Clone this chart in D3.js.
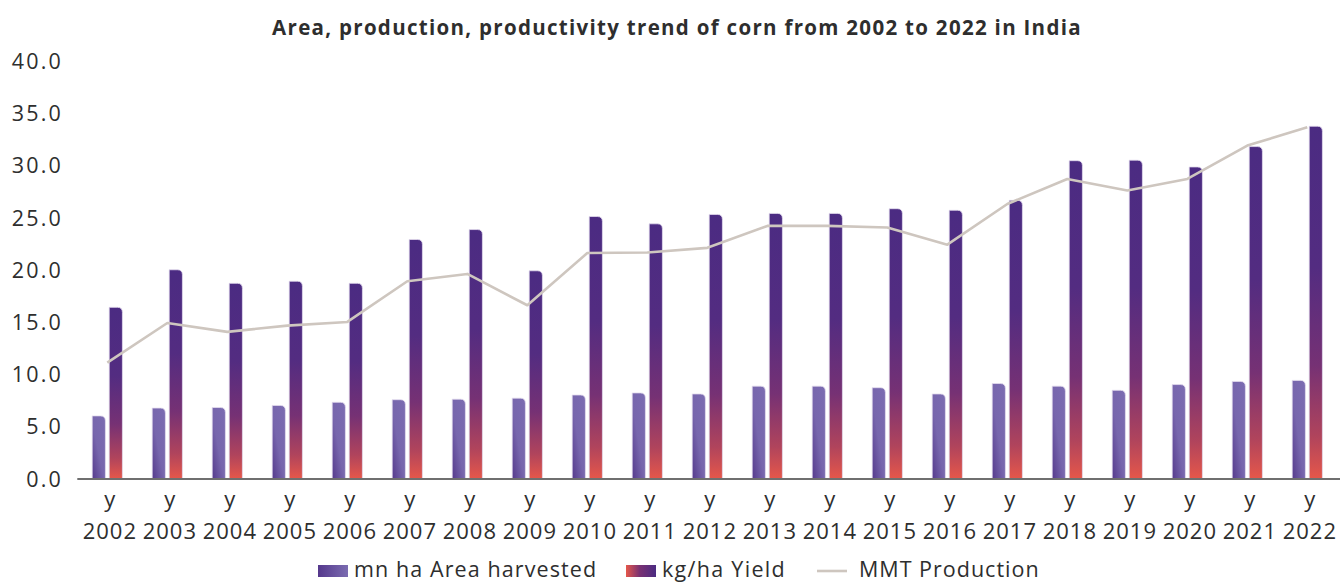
<!DOCTYPE html>
<html>
<head>
<meta charset="utf-8">
<script src="https://cdn.jsdelivr.net/npm/d3@7"></script>
<style>
  html, body { margin: 0; padding: 0; background: #ffffff; }
  svg { display: block; font-family: "Open Sans", "Noto Sans", sans-serif; }
</style>
</head>
<body>
<svg id="chart" width="1340" height="583"></svg>
<script>
// Corn in India, 2002–2022
const years = ["2002","2003","2004","2005","2006","2007","2008","2009","2010","2011","2012",
               "2013","2014","2015","2016","2017","2018","2019","2020","2021","2022"];
const areaHarvested = [6.0, 6.75, 6.8, 7.0, 7.3, 7.55, 7.6, 7.7, 8.0, 8.2, 8.1,
                       8.85, 8.85, 8.7, 8.1, 9.1, 8.85, 8.45, 9.0, 9.3, 9.4];
const yieldValues = [16.4, 20.0, 18.7, 18.9, 18.7, 22.9, 23.85, 19.9, 25.1, 24.4, 25.3,
                     25.4, 25.4, 25.85, 25.7, 26.65, 30.45, 30.5, 29.85, 31.8, 33.75];
const production = [11.1, 14.9, 14.05, 14.65, 15.0, 18.9, 19.6, 16.6, 21.6, 21.65, 22.1,
                    24.2, 24.2, 24.05, 22.4, 26.3, 28.7, 27.6, 28.7, 31.9, 33.65];
const yTicks = [0, 5, 10, 15, 20, 25, 30, 35, 40];
const seriesNames = ["mn ha Area harvested", "kg/ha Yield", "MMT Production"];
const titleText = "Area, production, productivity trend of corn from 2002 to 2022 in India";

const svg = d3.select("#chart");
const textColor = "#2e2e2e";

// Gradients
const defs = svg.append("defs");
const gArea = defs.append("linearGradient").attr("id", "gradArea")
  .attr("x1", 1).attr("y1", 0).attr("x2", 0).attr("y2", 1);
gArea.append("stop").attr("offset", "0%").attr("stop-color", "#7b6cb1");
gArea.append("stop").attr("offset", "55%").attr("stop-color", "#7766ad");
gArea.append("stop").attr("offset", "100%").attr("stop-color", "#553a8c");

const gYield = defs.append("linearGradient").attr("id", "gradYield")
  .attr("x1", 0).attr("y1", 0).attr("x2", 0).attr("y2", 1);
gYield.append("stop").attr("offset", "0%").attr("stop-color", "#4b2b82");
gYield.append("stop").attr("offset", "40%").attr("stop-color", "#532c81");
gYield.append("stop").attr("offset", "68%").attr("stop-color", "#763174");
gYield.append("stop").attr("offset", "88%").attr("stop-color", "#b0445c");
gYield.append("stop").attr("offset", "100%").attr("stop-color", "#e5574a");

const gLegArea = defs.append("linearGradient").attr("id", "legArea")
  .attr("x1", 0).attr("y1", 0).attr("x2", 1).attr("y2", 0);
gLegArea.append("stop").attr("offset", "0%").attr("stop-color", "#55388c");
gLegArea.append("stop").attr("offset", "100%").attr("stop-color", "#7b6cb1");

const gLegYield = defs.append("linearGradient").attr("id", "legYield")
  .attr("x1", 0).attr("y1", 0).attr("x2", 1).attr("y2", 0);
gLegYield.append("stop").attr("offset", "0%").attr("stop-color", "#e5574a");
gLegYield.append("stop").attr("offset", "45%").attr("stop-color", "#7a3172");
gLegYield.append("stop").attr("offset", "100%").attr("stop-color", "#4b2b82");

// Scales
const x = d3.scaleBand().domain(years).range([77.3, 1337.3]).padding(0);
const y = d3.scaleLinear().domain([0, 40]).range([478.5, 61]);
const cx = d => x(d) + x.bandwidth() / 2;

const barW = 13.2, gap = 3.8, r = 5;

// Bar with rounded top-right corner only
function barPath(x0, w, v) {
  const top = y(v), base = y(0);
  const rr = Math.min(r, w / 2, base - top);
  return `M${x0},${base}V${top}H${x0 + w - rr}Q${x0 + w},${top} ${x0 + w},${top + rr}V${base}Z`;
}

// Title
svg.append("text")
  .attr("x", 677).attr("y", 35)
  .attr("text-anchor", "middle")
  .attr("font-size", 20.5).attr("font-weight", 700)
  .attr("letter-spacing", 1.3)
  .attr("fill", textColor)
  .text(titleText);

// Y axis labels
const yAxis = d3.axisLeft(y).tickValues(yTicks).tickFormat(d3.format(".1f")).tickSize(0).tickPadding(0);
const yg = svg.append("g").attr("transform", "translate(63,0)").call(yAxis);
yg.select(".domain").remove();
yg.selectAll("text").attr("font-size", 21.5).attr("fill", textColor)
  .attr("letter-spacing", 2.2)
  .attr("font-family", "'Open Sans', sans-serif").attr("dy", "0.35em");

// Bars
const rows = years.map((yr, i) => ({ yr, area: areaHarvested[i], yld: yieldValues[i], prod: production[i] }));

svg.append("g").selectAll("path").data(rows).join("path")
  .attr("d", d => barPath(cx(d.yr) - gap / 2 - barW, barW, d.area))
  .attr("fill", "url(#gradArea)")
  .attr("stroke", "#e4ddef").attr("stroke-width", 0.8);

svg.append("g").selectAll("path").data(rows).join("path")
  .attr("d", d => barPath(cx(d.yr) + gap / 2, barW, d.yld))
  .attr("fill", "url(#gradYield)")
  .attr("stroke", "#e4ddef").attr("stroke-width", 0.8);

// Production line
const line = d3.line().x(d => cx(d.yr)).y(d => y(d.prod));
svg.append("path").datum(rows)
  .attr("d", line)
  .attr("fill", "none")
  .attr("stroke", "#cec6bf")
  .attr("stroke-width", 2.6)
  .attr("stroke-linejoin", "round");

// X axis
const xAxis = d3.axisBottom(x).tickSize(0).tickFormat("");
const xg = svg.append("g").attr("transform", `translate(0,${y(0) + 0.5})`).call(xAxis);
xg.select(".domain").attr("stroke", "#6f6f6f").attr("stroke-width", 2)
  .attr("d", "M77.3,0H1340");

const xl = svg.append("g").selectAll("g").data(years).join("g")
  .attr("transform", d => `translate(${cx(d) + 2.5},0)`);
xl.append("text").attr("y", 507).attr("text-anchor", "middle")
  .attr("font-size", 22).attr("fill", textColor).text("y");
xl.append("text").attr("y", 539).attr("text-anchor", "middle")
  .attr("font-size", 22).attr("letter-spacing", 1).attr("fill", textColor).text(d => d);

// Legend
const leg = svg.append("g");
const legSize = 21.5;
leg.append("rect").attr("x", 318).attr("y", 565).attr("width", 30).attr("height", 12).attr("fill", "url(#legArea)");
leg.append("text").attr("x", 354).attr("y", 577).attr("font-size", legSize).attr("letter-spacing", 1.1)
  .attr("fill", textColor).text(seriesNames[0]);
leg.append("rect").attr("x", 626).attr("y", 565).attr("width", 30).attr("height", 12).attr("fill", "url(#legYield)");
leg.append("text").attr("x", 662).attr("y", 577).attr("font-size", legSize).attr("letter-spacing", 1.3)
  .attr("fill", textColor).text(seriesNames[1]);
leg.append("line").attr("x1", 817).attr("x2", 847).attr("y1", 571).attr("y2", 571)
  .attr("stroke", "#cec6bf").attr("stroke-width", 2.6);
leg.append("text").attr("x", 859).attr("y", 577).attr("font-size", legSize).attr("letter-spacing", 1)
  .attr("fill", textColor).text(seriesNames[2]);
</script>
</body>
</html>
